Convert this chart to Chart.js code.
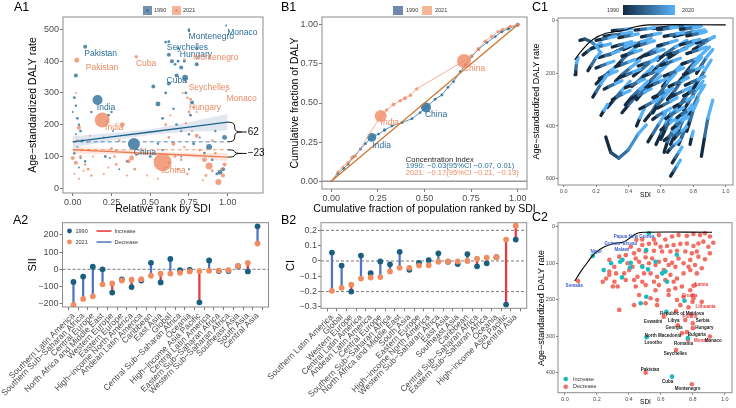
<!DOCTYPE html>
<html>
<head>
<meta charset="utf-8">
<title>DALY inequality by SDI</title>
<script src="https://cdn.jsdelivr.net/npm/chart.js@4.4.1/dist/chart.umd.min.js"></script>
<style>
  html, body { margin: 0; padding: 0; background: #ffffff; }
  #wrap { position: relative; width: 736px; height: 408px; overflow: hidden; }
  #wrap canvas { position: absolute; left: 0; top: 0; }
</style>
</head>
<body>
<div id="wrap"></div>
<script>
// ---------------- data ----------------

// A1: [relative rank, age-standardized DALY rate, population weight]
const a1Pts1990 = [
  [0.02,355,4],[0.01,285,2],[0.02,260,1.5],[0.0,240,1],[0.03,220,2],[0.04,200,1.5],[0.05,180,2],[0.02,170,1],
  [0.06,150,2],[0.03,130,1],[0.01,110,2],[0.05,95,1],[0.08,85,1.5],[0.1,120,1],[0.12,240,1.5],[0.04,65,1],
  [0.23,230,2],[0.25,240,1.5],[0.22,210,1],[0.26,180,1],[0.2,160,1],[0.21,100,2],[0.24,95,1],[0.28,120,1],
  [0.3,60,1],[0.35,85,1.5],[0.52,320,4],[0.55,265,6],[0.58,220,2],[0.6,300,2],[0.62,330,4],[0.62,420,4],
  [0.64,400,4],[0.6,460,2],[0.66,390,2],[0.67,355,4],[0.7,380,4],[0.68,440,2],[0.72,400,2],[0.65,250,1.5],
  [0.67,200,2],[0.7,180,1.5],[0.73,300,2],[0.75,170,1.5],[0.76,230,2],[0.77,270,4],[0.78,140,2],[0.8,390,4],
  [0.82,160,1],[0.55,140,1.5],[0.5,100,2],[0.58,120,1.5],[0.62,80,1],[0.7,100,1],[0.75,60,1],[0.8,440,2],
  [0.75,495,1.5],[0.88,130,9],[0.9,90,2],[0.95,50,6],[0.97,60,4],[0.98,160,6],[0.93,45,2],[0.85,110,2],
  [0.92,180,1.5],[0.08,445,4],[0.16,278,25],[0.395,139,36],[0.725,348,9],[0.62,461,2],[0.68,400,2],
  [0.75,500,1.5],[0.99,512,1]
];
const a1Pts2021 = [
  [0.02,300,1],[0.04,190,4],[0.03,150,2],[0.0,95,4],[0.02,80,4],[0.06,120,2],[0.05,100,2],[0.08,75,1.5],
  [0.07,55,1],[0.1,60,2],[0.12,40,1.5],[0.09,145,1],[0.11,165,1],[0.13,100,1],[0.01,45,1],[0.04,30,1],
  [0.32,200,6],[0.3,150,2],[0.25,125,2],[0.27,100,1.5],[0.28,75,2],[0.36,85,4],[0.4,60,2],[0.41,105,1.5],
  [0.45,120,1],[0.23,65,1],[0.35,40,1],[0.2,45,1],[0.48,40,1],[0.38,95,6],[0.6,200,2],[0.62,160,2],
  [0.65,140,4],[0.66,100,2],[0.7,90,2],[0.72,130,1.5],[0.68,60,2],[0.74,45,1.5],[0.73,205,1.5],[0.75,240,2],
  [0.76,280,2],[0.78,255,1.5],[0.8,165,4],[0.82,120,2],[0.77,180,1],[0.63,230,1],[0.55,30,1],[0.58,50,1],
  [0.8,240,1],[0.71,300,1],[0.85,90,6],[0.88,70,12],[0.9,55,2],[0.94,20,9],[0.97,40,4],[0.98,75,4],
  [0.92,110,2],[0.86,40,2],[0.96,60,2],[0.9,150,1.5],[0.84,25,1],[0.026,403,6],[0.41,414,3],[0.19,215,56],
  [0.58,82,81],[0.72,405,1.5],[0.73,335,1.5],[0.99,305,1],[0.74,285,1.5]
];
const a1Ranks = [0, 0.25, 0.5, 0.75, 1];
const a1Fit1990 = [146, 161.5, 177, 192.5, 208];
const a1Lo1990 = [128, 149.5, 168, 177.5, 182];
const a1Hi1990 = [164, 173.5, 186, 207.5, 234];
const a1Fit2021 = [121, 115.3, 109.5, 103.8, 98];
const a1Lo2021 = [109, 107, 103.5, 96, 85];
const a1Hi2021 = [133, 123, 115.5, 112, 111];
const a1Lab1990 = [['Pakistan',0.18,424],['India',0.215,254],['China',0.466,113],['Cuba',0.671,338],
  ['Seychelles',0.74,442],['Hungary',0.795,421],['Montenegro',0.894,477],['Monaco',1.095,490]];
const a1Lab2021 = [['Pakistan',0.189,379],['Cuba',0.473,393],['India',0.268,191],['China',0.658,55],
  ['Montenegro',0.923,412],['Seychelles',0.881,316],['Monaco',1.09,281],['Hungary',0.854,255]];

// B1: concentration curves [cum. population, cum. DALY, population weight]
const b1Curve1990 = [
  [0,0,1],[0.035,0.049,2],[0.066,0.081,2],[0.09,0.109,2],[0.12,0.156,2],[0.156,0.205,2],[0.183,0.24,2],
  [0.217,0.28,20],[0.253,0.301,2],[0.286,0.327,3],[0.325,0.353,2],[0.379,0.374,2],[0.433,0.4,2],
  [0.476,0.438,2],[0.508,0.472,25],[0.557,0.524,2],[0.593,0.551,2],[0.626,0.6,2],[0.656,0.637,2],
  [0.692,0.701,2],[0.718,0.744,2],[0.754,0.797,2],[0.79,0.844,2],[0.835,0.887,2],[0.88,0.925,2],
  [0.915,0.957,3],[0.95,0.975,3],[1,1,4]
];
const b1Curve2021 = [
  [0,0,1],[0.035,0.06,2],[0.062,0.092,2],[0.09,0.12,3],[0.112,0.15,4],[0.13,0.16,2],[0.265,0.417,36],
  [0.297,0.455,3],[0.333,0.49,4],[0.37,0.515,3],[0.395,0.53,4],[0.425,0.55,3],[0.458,0.59,3],
  [0.712,0.769,49],[0.75,0.8,3],[0.79,0.845,4],[0.825,0.895,3],[0.86,0.925,3],[0.895,0.955,3],
  [0.92,0.97,3],[0.96,0.99,3],[1,1,4]
];
const b1Equality = [[0,0],[1,1]];
const b1Lab1990 = [['India',0.27,0.23],['China',0.562,0.423]];
const b1Lab2021 = [['India',0.314,0.374],['China',0.766,0.718]];
const b1Index = ['Concentration Index', '1990: −0.03(95%CI −0.07, 0.01)', '2021: −0.17(95%CI −0.21, −0.13)'];

// A2: slope index of inequality
const a2Cats = ['Southern Latin America','Southern Sub−Saharan Africa','Central Europe','North Africa and Middle East',
  'Western Europe','Eastern Europe','High−income North America','Andean Latin America','Caribbean','East Asia',
  'Global','Central Sub−Saharan Africa','Oceania','High−income Asia Pacific','Central Latin America',
  'Eastern Sub−Saharan Africa','Western Sub−Saharan Africa','Southeast Asia','South Asia','Central Asia'];
const a2Sii1990 = [-73, -42, 15, 0, -135, -58, -103, -65, 38, -76, 60, -5, -3, -192, 52, -10, -10, 18, -12, 250];
const a2Sii2021 = [-207, -172, -157, -87, -82, -65, -60, -57, -37, -25, -25, -20, -12, -10, -8, -7, -5, 20, 38, 150];

// B2: concentration index
const b2Cats = ['Southern Latin America','Global','Western Europe','Central Latin America','Andean Latin America',
  'Central Europe','Southern Sub−Saharan Africa','North Africa and Middle East','South Asia','Eastern Europe',
  'High−income North America','Western Sub−Saharan Africa','East Asia','Southeast Asia','Caribbean',
  'Central Sub−Saharan Africa','Eastern Sub−Saharan Africa','Oceania','High−income Asia Pacific','Central Asia'];
const b2Ci1990 = [0.055, -0.03, -0.2, 0.035, -0.08, -0.003, -0.022, 0.06, -0.058, -0.012, 0.005, 0.05, -0.005, -0.02, 0.045, -0.035, -0.015, 0.025, -0.285, 0.14];
const b2Ci2021 = [-0.195, -0.175, -0.155, -0.115, -0.108, -0.105, -0.068, -0.045, -0.045, -0.03, -0.028, -0.005, -0.003, -0.003, 0.0, 0.015, 0.022, 0.025, 0.14, 0.23];

// C1: country trajectories 1990 -> 2021 [SDI, DALY rate]
const c1Frontier = [[0.068,149],[0.115,111],[0.177,73],[0.26,48],[0.362,38],[0.444,23],[0.527,16],[1.0,16]];
const c1Paths = [
  [[0.07,205],[0.075,185],[0.08,160],[0.09,140]],
  [[0.1,75],[0.13,70],[0.17,80],[0.2,95],[0.22,115]],
  [[0.26,442],[0.29,500],[0.34,522],[0.4,490],[0.46,430],[0.51,396]],
  [[0.85,515],[0.87,440],[0.89,370],[0.92,302]],
  [[0.78,470],[0.79,440],[0.8,420]],
  [[0.23,360],[0.25,340],[0.27,318]],
  [[0.18,290],[0.2,270],[0.23,240],[0.27,205]],
  [[0.15,190],[0.17,170],[0.2,140],[0.23,120]],
  [[0.3,38],[0.34,36],[0.38,33],[0.42,30]],
  [[0.44,36],[0.48,33],[0.52,30],[0.56,27]],
  [[0.58,34],[0.62,31],[0.66,28],[0.7,25]],
  [[0.72,33],[0.76,30],[0.8,27],[0.84,24]],
  [[0.2,75],[0.24,70],[0.28,65],[0.32,60]],
  [[0.34,65],[0.38,60],[0.42,55],[0.46,50]],
  [[0.48,62],[0.52,57],[0.56,52],[0.6,47]],
  [[0.62,60],[0.66,55],[0.7,50],[0.74,45]],
  [[0.76,58],[0.8,53],[0.84,48],[0.88,42]],
  [[0.17,105],[0.21,100],[0.25,94],[0.29,88]],
  [[0.3,100],[0.34,93],[0.38,87],[0.42,80]],
  [[0.44,98],[0.48,91],[0.52,84],[0.56,77]],
  [[0.58,96],[0.62,89],[0.66,82],[0.7,75]],
  [[0.72,92],[0.76,85],[0.8,78],[0.84,71]],
  [[0.82,85],[0.86,78],[0.9,70],[0.93,62]],
  [[0.22,140],[0.26,132],[0.3,124],[0.34,116]],
  [[0.36,135],[0.4,127],[0.44,119],[0.48,111]],
  [[0.5,133],[0.54,125],[0.58,117],[0.62,109]],
  [[0.64,130],[0.68,122],[0.72,114],[0.76,106]],
  [[0.76,125],[0.8,117],[0.84,109],[0.88,100]],
  [[0.2,180],[0.23,172],[0.27,163],[0.31,154]],
  [[0.32,175],[0.36,166],[0.4,157],[0.44,148]],
  [[0.46,172],[0.5,163],[0.54,154],[0.58,145]],
  [[0.6,170],[0.64,161],[0.68,152],[0.72,143]],
  [[0.73,165],[0.77,156],[0.81,147],[0.85,138]],
  [[0.22,220],[0.25,211],[0.29,201],[0.33,191]],
  [[0.35,215],[0.39,205],[0.43,195],[0.47,185]],
  [[0.49,212],[0.53,202],[0.57,192],[0.61,182]],
  [[0.62,210],[0.66,200],[0.7,190],[0.74,180]],
  [[0.74,205],[0.78,195],[0.82,185],[0.86,175]],
  [[0.25,260],[0.28,250],[0.32,239],[0.36,228]],
  [[0.38,255],[0.42,244],[0.46,233],[0.5,222]],
  [[0.52,252],[0.56,241],[0.6,230],[0.64,219]],
  [[0.65,250],[0.69,239],[0.73,228],[0.77,217]],
  [[0.75,245],[0.79,234],[0.83,223],[0.87,212]],
  [[0.3,300],[0.33,289],[0.37,277],[0.41,265]],
  [[0.42,295],[0.46,283],[0.5,271],[0.54,259]],
  [[0.55,292],[0.59,280],[0.63,268],[0.67,256]],
  [[0.66,290],[0.7,278],[0.74,266],[0.78,254]],
  [[0.74,285],[0.78,273],[0.82,261],[0.86,249]],
  [[0.47,335],[0.51,322],[0.55,309],[0.59,296]],
  [[0.58,332],[0.62,319],[0.66,306],[0.7,293]],
  [[0.68,328],[0.72,315],[0.76,302],[0.8,289]],
  [[0.55,375],[0.58,361],[0.62,347],[0.66,333]],
  [[0.63,372],[0.66,358],[0.7,344],[0.74,330]],
  [[0.7,368],[0.73,354],[0.77,340],[0.81,326]],
  [[0.6,415],[0.63,400],[0.66,385],[0.7,370]],
  [[0.67,410],[0.7,395],[0.73,380],[0.77,365]],
  [[0.62,455],[0.65,440],[0.68,424],[0.71,408]],
  [[0.68,450],[0.7,435],[0.73,419],[0.76,403]],
  [[0.64,500],[0.66,485],[0.69,468],[0.72,451]],
  [[0.67,540],[0.69,520],[0.71,500],[0.73,480]],
  [[0.66,590],[0.68,570],[0.7,550],[0.72,530]],
  [[0.25,60],[0.3,55],[0.36,50],[0.42,45]],
  [[0.28,130],[0.33,115],[0.38,100],[0.44,85]],
  [[0.32,230],[0.36,205],[0.41,180],[0.47,150]],
  [[0.38,320],[0.42,290],[0.47,260],[0.52,230]],
  [[0.45,150],[0.5,130],[0.56,110],[0.62,90]],
  [[0.5,250],[0.54,225],[0.59,195],[0.65,160]],
  [[0.55,350],[0.58,320],[0.62,290],[0.67,255]],
  [[0.6,450],[0.63,410],[0.66,370],[0.7,320]],
  [[0.62,500],[0.64,460],[0.67,420],[0.71,370]],
  [[0.65,140],[0.7,120],[0.76,100],[0.82,80]],
  [[0.7,240],[0.74,210],[0.79,180],[0.85,140]],
  [[0.74,340],[0.77,310],[0.81,270],[0.86,230]],
  [[0.76,420],[0.78,380],[0.8,340],[0.83,300]],
  [[0.8,110],[0.84,95],[0.88,80],[0.93,60]],
  [[0.55,30],[0.65,25],[0.75,22],[0.85,20]],
  [[0.42,250],[0.46,230],[0.5,205],[0.55,175]],
  [[0.66,470],[0.68,440],[0.71,400],[0.74,360]],
  [[0.45,300],[0.49,270],[0.54,240],[0.6,210]],
  [[0.5,380],[0.54,350],[0.58,310],[0.63,270]],
  [[0.57,470],[0.6,430],[0.63,390],[0.66,350]],
  [[0.7,430],[0.72,400],[0.75,360],[0.79,320]],
  [[0.33,170],[0.36,150],[0.4,125],[0.45,100]],
  [[0.58,150],[0.63,125],[0.69,100],[0.76,75]],
  [[0.75,200],[0.79,170],[0.84,135],[0.9,100]],
  [[0.8,260],[0.83,230],[0.87,190],[0.91,150]],
  [[0.45,400],[0.47,370],[0.5,330]],
  [[0.12,130],[0.15,115],[0.19,100],[0.23,85]],
  [[0.2,240],[0.24,215],[0.29,190],[0.34,165]],
  [[0.27,330],[0.31,300],[0.36,265],[0.41,230]],
  [[0.37,110],[0.42,95],[0.48,80],[0.54,68]],
  [[0.43,210],[0.48,185],[0.53,160],[0.59,135]],
  [[0.56,300],[0.6,270],[0.64,235],[0.69,200]],
  [[0.61,250],[0.65,220],[0.69,190],[0.74,160]],
  [[0.64,300],[0.68,270],[0.72,235],[0.77,200]],
  [[0.71,330],[0.74,300],[0.78,265],[0.83,225]],
  [[0.77,360],[0.8,325],[0.83,285],[0.87,245]],
  [[0.82,200],[0.85,170],[0.88,140],[0.92,110]],
  [[0.68,60],[0.74,50],[0.8,42],[0.87,35]],
  [[0.54,200],[0.58,175],[0.63,150],[0.68,125]],
  [[0.71,470],[0.73,440],[0.76,400],[0.79,360]],
  [[0.36,350],[0.4,320],[0.45,285],[0.5,250]],
  [[0.52,460],[0.55,430],[0.59,390],[0.63,350]]
];

// C2: change 1990 -> 2021 [SDI, DALY rate]
const c2Frontier = [[0.062,149],[0.099,123],[0.144,96],[0.186,73],[0.247,55],[0.309,46],[0.371,41],[0.412,29],[0.453,18],[0.495,15],[0.92,15]];
const c2Increase = [[0.526,18],[0.509,64],[0.175,80],[0.7,77],[0.567,96],[0.346,96],[0.36,91],[0.289,100],[0.412,99],
  [0.243,119],[0.408,112],[0.484,110],[0.52,117],[0.608,128],[0.629,123],[0.639,151],[0.357,139],[0.509,192],
  [0.474,210],[0.748,203],[0.635,233],[0.511,303],[0.769,305],[0.67,411]];
const c2Decrease = [
  [0.557,35],[0.588,23],[0.628,35],[0.67,27],[0.711,23],[0.763,25],[0.804,20],[0.845,23],[0.876,18],[0.907,27],[0.928,44],[0.484,35],[0.447,36],
  [0.484,50],[0.526,47],[0.567,46],[0.598,55],[0.639,53],[0.68,50],[0.722,47],[0.763,46],[0.804,53],[0.835,46],[0.866,41],[0.897,55],
  [0.825,68],[0.794,73],[0.753,68],[0.701,66],[0.66,68],[0.608,68],[0.557,66],[0.505,68],[0.464,64],[0.412,55],[0.433,73],
  [0.34,82],[0.381,78],[0.443,87],[0.464,96],[0.505,84],[0.546,87],[0.588,96],[0.628,91],[0.67,99],[0.711,87],[0.742,100],[0.784,91],
  [0.835,82],[0.876,89],[0.907,73],[0.814,105],[0.773,110],[0.691,110],[0.649,105],[0.567,105],[0.526,100],[0.484,108],[0.423,110],
  [0.392,100],[0.309,110],[0.278,91],
  [0.278,132],[0.32,128],[0.371,128],[0.402,119],[0.454,137],[0.495,128],[0.536,128],[0.577,137],[0.619,119],[0.66,132],[0.701,142],
  [0.742,128],[0.784,119],[0.825,128],[0.856,114],[0.68,151],[0.628,146],[0.557,151],[0.484,151],[0.433,146],[0.381,146],[0.33,164],[0.258,142],
  [0.443,164],[0.505,160],[0.567,174],[0.588,160],[0.649,174],[0.691,169],[0.732,164],[0.784,174],[0.814,160],[0.464,187],[0.536,196],
  [0.577,201],[0.649,187],[0.701,201],[0.742,192],[0.804,196],[0.856,206],[0.505,210],[0.433,215],[0.577,215],[0.722,215],[0.773,221],[0.34,228],
  [0.237,151],[0.278,123],[0.31,151],[0.3,164],[0.082,149],
  [0.505,400],[0.794,432],[0.695,338],[0.769,310],[0.907,301],[0.763,289],[0.8,278],[0.8,265],[0.753,256],[0.618,247],[0.695,231],
  [0.79,240],[0.798,206],[0.8,189],[0.804,162],[0.732,292],[0.706,270]
];
// label, SDI, DALY, group (b = frontier, r = highlighted, k = other)
const c2Labels = [
  ['Somalia',0.058,162,'b'],['Niger',0.196,70,'b'],['Papua New Guinea',0.433,27,'b'],['Guinea−Bissau',0.35,46,'b'],['Malawi',0.357,64,'b'],
  ['Latvia',0.855,160,'r'],['Croatia',0.779,190,'r'],['Lithuania',0.88,219,'r'],['Poland',0.783,246,'r'],['Monaco',0.86,313,'r'],
  ['Republic of Moldova',0.732,239,'k'],['Eswatini',0.552,260,'k'],['Libya',0.68,257,'k'],['Serbia',0.862,257,'k'],['Georgia',0.683,278,'k'],
  ['Hungary',0.872,278,'k'],['Bulgaria',0.825,296,'k'],['North Macedonia',0.614,300,'k'],['Lesotho',0.552,318,'k'],['Romania',0.742,322,'k'],
  ['Monaco',0.928,313,'k'],['Seychelles',0.691,349,'k'],['Pakistan',0.532,391,'k'],['Cuba',0.643,425,'k'],['Montenegro',0.767,445,'k']
];

// ---------------- layout & helpers ----------------
const W = 736, H = 408, YW = 55;
const FONT = "'Liberation Sans', Arial, Helvetica, sans-serif";
const BLUE = '#2c6e98', ORANGE = '#ee8a62';
const DOT_BLUE = '#1a5f80', DOT_ORANGE = '#ef8d60';
const UP_RED = '#e8383d', DOWN_BLUE = '#5175c4';

const boxA1 = {l: 63, t: 17, r: 263, b: 193};
const boxB1 = {l: 322, t: 17, r: 527, b: 189};
const boxC1 = {l: 558, t: 18, r: 733, b: 185};
const boxA2 = {l: 62.5, t: 222.7, r: 268.5, b: 307};
const boxB2 = {l: 321, t: 222.7, r: 526.7, b: 308.3};
const boxC2 = {l: 558, t: 222.7, r: 734, b: 392.7};

const minus = s => String(s).replace('-', '−');
const pts = arr => arr.map(p => ({x: p[0], y: p[1]}));
const xy = (xs, ys) => xs.map((x, i) => ({x: x, y: ys[i]}));

function text(ctx, s, x, y, size, color, align, rot, bold) {
  ctx.save();
  ctx.font = (bold ? 'bold ' : '') + size + 'px ' + FONT;
  ctx.fillStyle = color || '#000';
  ctx.textAlign = align || 'center';
  ctx.textBaseline = 'middle';
  ctx.translate(x, y);
  if (rot) ctx.rotate(rot);
  ctx.fillText(s, 0, 0);
  ctx.restore();
}

function frame(chart) {
  const a = chart.chartArea, ctx = chart.ctx;
  ctx.save();
  ctx.strokeStyle = '#8c8c8c';
  ctx.lineWidth = 1;
  ctx.strokeRect(a.left, a.top, a.right - a.left, a.bottom - a.top);
  ctx.restore();
}

function dot(ctx, x, y, r, color) {
  ctx.beginPath();
  ctx.arc(x, y, r, 0, Math.PI * 2);
  ctx.fillStyle = color;
  ctx.fill();
}

function hline(chart, v, color, dash, width) {
  const ctx = chart.ctx, a = chart.chartArea, y = chart.scales.y.getPixelForValue(v);
  ctx.save();
  ctx.strokeStyle = color;
  ctx.lineWidth = width || 0.8;
  ctx.setLineDash(dash || []);
  ctx.beginPath();
  ctx.moveTo(a.left, y);
  ctx.lineTo(a.right, y);
  ctx.stroke();
  ctx.restore();
}

function brace(ctx, x, yA, yB, w) {
  const y1 = Math.min(yA, yB), y2 = Math.max(yA, yB), ym = (y1 + y2) / 2;
  const h = w / 2, c = Math.min(4, (y2 - y1) / 4);
  ctx.save();
  ctx.strokeStyle = '#111';
  ctx.lineWidth = 1;
  ctx.beginPath();
  ctx.moveTo(x, y1);
  ctx.quadraticCurveTo(x + h, y1, x + h, y1 + c);
  ctx.lineTo(x + h, ym - c);
  ctx.quadraticCurveTo(x + h, ym, x + w, ym);
  ctx.quadraticCurveTo(x + h, ym, x + h, ym + c);
  ctx.lineTo(x + h, y2 - c);
  ctx.quadraticCurveTo(x + h, y2, x, y2);
  ctx.moveTo(x + w, ym);
  ctx.lineTo(x + w + 5, ym);
  ctx.stroke();
  ctx.restore();
}

function axis(min, max, ticks, fmt, size, extra) {
  const ax = {
    type: 'linear', min: min, max: max,
    afterBuildTicks: s => { s.ticks = ticks.map(v => ({value: v})); },
    grid: {drawOnChartArea: false, tickLength: 3, color: '#555', lineWidth: 0.8},
    border: {display: false},
    ticks: {callback: fmt, autoSkip: false, maxRotation: 0, minRotation: 0, padding: 1,
      color: '#4d4d4d', font: {family: FONT, size: size}}
  };
  if (extra && extra.rotate) { ax.ticks.maxRotation = extra.rotate; ax.ticks.minRotation = extra.rotate; }
  if (extra && extra.reverse) ax.reverse = true;
  if (extra && extra.tick) ax.grid.tickLength = extra.tick;
  return ax;
}

function panel(box, cfg) {
  const cv = document.createElement('canvas');
  cv.width = W; cv.height = H;
  document.getElementById('wrap').appendChild(cv);
  // the x axis box must be tall enough, or Chart.js clips its labels
  const xh = Math.min(100, H - box.b);
  const o = cfg.options;
  o.responsive = false;
  o.animation = false;
  o.events = [];
  o.layout = {padding: {left: box.l - YW, top: box.t, right: W - box.r, bottom: H - box.b - xh}};
  o.plugins = {legend: {display: false}, tooltip: {enabled: false}};
  o.scales.x.afterFit = s => { s.height = xh; s.paddingLeft = 0; s.paddingRight = 0; };
  o.scales.y.afterFit = s => { s.width = YW; s.paddingTop = 0; s.paddingBottom = 0; };
  return new Chart(cv, cfg);
}

function lineDs(data, color, width, extra) {
  return Object.assign({type: 'scatter', showLine: true, data: data, borderColor: color,
    borderWidth: width, pointRadius: 0, fill: false}, extra || {});
}

function bubbleDs(arr, color) {
  return {type: 'scatter', data: pts(arr), pointRadius: arr.map(p => Math.sqrt(p[2])),
    backgroundColor: color, borderWidth: 0, pointBorderWidth: 0};
}

const fmt2 = v => minus(v.toFixed(2));
const fmtInt = v => minus(v);

// ---------------- A1 ----------------
panel(boxA1, {
  type: 'scatter',
  data: {datasets: [
    lineDs(xy(a1Ranks, a1Fit1990), '#1f628e', 1.4),
    lineDs(xy(a1Ranks, a1Fit2021), '#ee7b4f', 1.4),
    lineDs(xy([0, 1], [a1Fit1990[0], a1Fit1990[0]]), '#4f87b3', 1, {borderDash: [4, 3]}),
    lineDs(xy([0, 1], [a1Fit2021[0], a1Fit2021[0]]), '#f09a72', 1, {borderDash: [4, 3]}),
    lineDs(xy(a1Ranks, a1Hi1990), 'rgba(0,0,0,0)', 1, {fill: '+1', backgroundColor: 'rgba(170,185,215,0.35)'}),
    lineDs(xy(a1Ranks, a1Lo1990), 'rgba(0,0,0,0)', 1),
    lineDs(xy(a1Ranks, a1Hi2021), 'rgba(0,0,0,0)', 1, {fill: '+1', backgroundColor: 'rgba(245,190,165,0.35)'}),
    lineDs(xy(a1Ranks, a1Lo2021), 'rgba(0,0,0,0)', 1),
    bubbleDs(a1Pts2021, 'rgba(238,138,98,0.8)'),
    bubbleDs(a1Pts1990, 'rgba(44,110,152,0.8)')
  ]},
  options: {scales: {
    x: axis(-0.063, 1.228, [0, 0.25, 0.5, 0.75, 1], fmt2, 9),
    y: axis(-15, 539, [0, 100, 200, 300, 400, 500], fmtInt, 9)
  }},
  plugins: [{
    id: 'a1deco',
    afterDatasetsDraw(chart) {
      const ctx = chart.ctx, xs = chart.scales.x, ys = chart.scales.y;
      frame(chart);
      a1Lab1990.forEach(l => text(ctx, l[0], xs.getPixelForValue(l[1]), ys.getPixelForValue(l[2]), 8.5, BLUE));
      a1Lab2021.forEach(l => text(ctx, l[0], xs.getPixelForValue(l[1]), ys.getPixelForValue(l[2]), 8.5, ORANGE));
      const bx = xs.getPixelForValue(1);
      [a1Fit1990, a1Fit2021].forEach(f => {
        const yA = ys.getPixelForValue(f[0]), yB = ys.getPixelForValue(f[f.length - 1]);
        brace(ctx, bx, yA, yB, 14);
        text(ctx, minus(Math.round(f[f.length - 1] - f[0])), bx + 20, (yA + yB) / 2, 10, '#111', 'left');
      });
      // legend
      ctx.fillStyle = '#7390b2'; ctx.fillRect(143, 6, 9, 9); dot(ctx, 147.5, 10.5, 1.3, BLUE);
      text(ctx, '1990', 154, 10.5, 5.5, '#333', 'left');
      ctx.fillStyle = '#f5b79c'; ctx.fillRect(172, 6, 9, 9); dot(ctx, 176.5, 10.5, 1.3, ORANGE);
      text(ctx, '2021', 183, 10.5, 5.5, '#333', 'left');
      text(ctx, 'A1', 14, 8, 12.5, '#000', 'left');
      text(ctx, 'Age−standardized DALY rate', 33, 105, 10.5, '#000', 'center', -Math.PI / 2);
      text(ctx, 'Relative rank by SDI', 163, 209, 10.5, '#000');
    }
  }]
});

// ---------------- B1 ----------------
panel(boxB1, {
  type: 'scatter',
  data: {datasets: [
    lineDs(pts(b1Equality), '#d0762c', 1.3),
    Object.assign(bubbleDs(b1Curve2021, 'rgba(240,140,100,0.8)'), {showLine: true, borderColor: '#f29a76', borderWidth: 0.8}),
    Object.assign(bubbleDs(b1Curve1990, 'rgba(44,112,156,0.85)'), {showLine: true, borderColor: '#2f74a3', borderWidth: 0.8})
  ]},
  options: {scales: {
    x: axis(-0.05, 1.05, [0, 0.25, 0.5, 0.75, 1], fmt2, 9),
    y: axis(-0.05, 1.05, [0, 0.25, 0.5, 0.75, 1], fmt2, 9)
  }},
  plugins: [{
    id: 'b1deco',
    beforeDatasetsDraw(chart) { hline(chart, 0, '#666', [], 1); },
    afterDatasetsDraw(chart) {
      const ctx = chart.ctx, xs = chart.scales.x, ys = chart.scales.y;
      frame(chart);
      b1Lab1990.forEach(l => text(ctx, l[0], xs.getPixelForValue(l[1]), ys.getPixelForValue(l[2]), 8.5, BLUE));
      b1Lab2021.forEach(l => text(ctx, l[0], xs.getPixelForValue(l[1]), ys.getPixelForValue(l[2]), 8.5, ORANGE));
      const tx = xs.getPixelForValue(0.40);
      text(ctx, b1Index[0], tx, 159.5, 7.6, '#222', 'left');
      text(ctx, b1Index[1], tx, 166.2, 7.6, BLUE, 'left');
      text(ctx, b1Index[2], tx, 172.9, 7.6, ORANGE, 'left');
      ctx.fillStyle = '#7088ae'; ctx.fillRect(393, 6, 10, 9);
      text(ctx, '1990', 406, 10.5, 5.5, '#333', 'left');
      ctx.fillStyle = '#f5b596'; ctx.fillRect(422, 6, 10, 9);
      text(ctx, '2021', 435, 10.5, 5.5, '#333', 'left');
      text(ctx, 'B1', 281, 8, 12.5, '#000', 'left');
      text(ctx, 'Cumulative fraction of DALY', 295, 103, 10.5, '#000', 'center', -Math.PI / 2);
      text(ctx, 'Cumulative fraction of population ranked by SDI', 424.5, 209, 10.5, '#000');
    }
  }]
});

// ---------------- C1 ----------------
const lo = [19, 43, 67], hi = [86, 177, 247];
const grad = t => 'rgb(' + lo.map((c, i) => Math.round(c + (hi[i] - c) * t)).join(',') + ')';
panel(boxC1, {
  type: 'scatter',
  data: {datasets: [lineDs(pts(c1Frontier), '#000', 1.1, {tension: 0.4})].concat(c1Paths.map(p => lineDs(pts(p), grad(0.5), 3.3, {
    borderCapStyle: 'round', borderJoinStyle: 'round',
    segment: {borderColor: ctx => grad(p.length > 2 ? ctx.p0DataIndex / (p.length - 2) : 0.5)}
  })))},
  options: {scales: {
    x: axis(-0.035, 1.045, [0, 0.2, 0.4, 0.6, 0.8, 1], v => v.toFixed(1), 5.5, {tick: 2}),
    y: axis(-10, 624, [0, 200, 400, 600], fmtInt, 5.5, {reverse: true, tick: 2})
  }},
  plugins: [{
    id: 'c1deco',
    afterDatasetsDraw(chart) {
      const ctx = chart.ctx;
      frame(chart);
      const g = ctx.createLinearGradient(623, 0, 675, 0);
      g.addColorStop(0, grad(0)); g.addColorStop(1, grad(1));
      ctx.fillStyle = g; ctx.fillRect(623, 5, 52, 10);
      text(ctx, '1990', 613, 10, 5.5, '#333');
      text(ctx, '2020', 688, 10, 5.5, '#333');
      text(ctx, 'C1', 532, 8, 12.5, '#000', 'left');
      text(ctx, 'Age−standardized DALY rate', 537, 101.5, 9, '#000', 'center', -Math.PI / 2);
      text(ctx, 'SDI', 645.5, 195, 6.5, '#000');
    }
  }]
});

// ---------------- A2 / B2 lollipops ----------------
function lollipop(box, cats, v1990, v2021, yMin, yMax, yTicks, yFmt, dashes, label, yTitle, legend) {
  const idx = cats.map((c, i) => i);
  panel(box, {
    type: 'scatter',
    data: {datasets: [
      {type: 'scatter', data: xy(idx, v2021), pointRadius: 2.9, backgroundColor: DOT_ORANGE, borderWidth: 0},
      {type: 'scatter', data: xy(idx, v1990), pointRadius: 2.9, backgroundColor: DOT_BLUE, borderWidth: 0},
      {type: 'bar', data: idx.map(i => ({x: i, y: [v1990[i], v2021[i]]})), barThickness: 1.6, grouped: false,
        backgroundColor: idx.map(i => v2021[i] > v1990[i] ? UP_RED : DOWN_BLUE)}
    ]},
    options: {scales: {
      x: axis(-0.6, cats.length - 0.4, idx, v => cats[v], 8.5, {rotate: 45}),
      y: axis(yMin, yMax, yTicks, yFmt, 9)
    }},
    plugins: [{
      id: 'lolli' + label,
      beforeDatasetsDraw(chart) { dashes.forEach(v => hline(chart, v, '#555', [3, 2], 0.8)); },
      afterDatasetsDraw(chart) {
        const ctx = chart.ctx, a = chart.chartArea;
        frame(chart);
        text(ctx, label, label === 'A2' ? 13 : 281, 221, 12.5, '#000', 'left');
        text(ctx, yTitle, a.left - 30, (a.top + a.bottom) / 2, 11, '#000', 'center', -Math.PI / 2);
        if (legend) {
          const lx = a.left + 7;
          dot(ctx, lx, 231, 2.4, DOT_BLUE); text(ctx, '1990', lx + 6, 231, 5.5, '#333', 'left');
          dot(ctx, lx, 242, 2.4, DOT_ORANGE); text(ctx, '2021', lx + 6, 242, 5.5, '#333', 'left');
          ctx.fillStyle = UP_RED; ctx.fillRect(lx + 27, 230.3, 15, 1.5);
          text(ctx, 'Increase', lx + 45, 231, 5.5, '#333', 'left');
          ctx.fillStyle = DOWN_BLUE; ctx.fillRect(lx + 27, 241.3, 15, 1.5);
          text(ctx, 'Decrease', lx + 45, 242, 5.5, '#333', 'left');
        }
      }
    }]
  });
}

lollipop(boxA2, a2Cats, a2Sii1990, a2Sii2021, -219, 271, [-200, -100, 0, 100, 200], fmtInt, [0], 'A2', 'SII', true);
lollipop(boxB2, b2Cats, b2Ci1990, b2Ci2021, -0.309, 0.25, [-0.3, -0.2, -0.1, 0, 0.1, 0.2],
  v => minus(Math.round(v * 10) / 10), [0.2, 0, -0.2], 'B2', 'CI', false);

// ---------------- C2 ----------------
const labColor = {b: '#3b5cc4', r: '#e8383d', k: '#222'};
panel(boxC2, {
  type: 'scatter',
  data: {datasets: [
    lineDs(pts(c2Frontier), '#000', 1.1, {tension: 0.4}),
    {type: 'scatter', data: pts(c2Increase), pointRadius: 2.3, backgroundColor: '#18bcc0', borderWidth: 0},
    {type: 'scatter', data: pts(c2Decrease), pointRadius: 2.3, backgroundColor: '#f26f66', borderWidth: 0}
  ]},
  options: {scales: {
    x: axis(-0.043, 1.045, [0, 0.2, 0.4, 0.6, 0.8, 1], v => v.toFixed(1), 5.5, {tick: 2}),
    y: axis(-11, 455, [0, 100, 200, 300, 400], fmtInt, 5.5, {reverse: true, tick: 2})
  }},
  plugins: [{
    id: 'c2deco',
    afterDatasetsDraw(chart) {
      const ctx = chart.ctx, xs = chart.scales.x, ys = chart.scales.y;
      frame(chart);
      c2Labels.forEach(l => text(ctx, l[0], xs.getPixelForValue(l[1]), ys.getPixelForValue(l[2]), 4.5, labColor[l[3]], 'center', 0, true));
      dot(ctx, 565.7, 379, 2.3, '#18bcc0'); text(ctx, 'Increase', 573, 379, 5.5, '#333', 'left');
      dot(ctx, 565.7, 386.7, 2.3, '#f26f66'); text(ctx, 'Decrease', 573, 386.7, 5.5, '#333', 'left');
      text(ctx, 'C2', 532, 218, 12.5, '#000', 'left');
      text(ctx, 'Age−standardized DALY rate', 542, 308, 9, '#000', 'center', -Math.PI / 2);
      text(ctx, 'SDI', 645.5, 402.5, 6.5, '#000');
    }
  }]
});
</script>
</body>
</html>
